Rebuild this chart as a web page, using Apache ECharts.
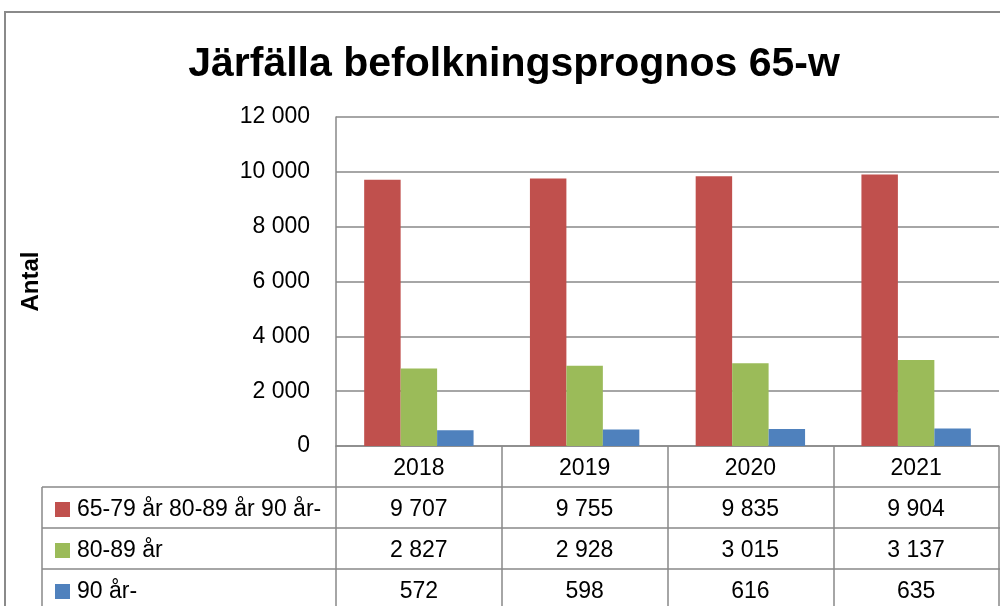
<!DOCTYPE html>
<html>
<head>
<meta charset="utf-8">
<script src="https://cdn.jsdelivr.net/npm/echarts@6/dist/echarts.min.js"></script>
<style>html,body{margin:0;padding:0;background:#fff}#c{width:1000px;height:606px}</style>
</head>
<body>
<div id="c"></div>
<script>
const categories = ['2018', '2019', '2020', '2021'];
const seriesNames = ['65-79 år 80-89 år 90 år-', '80-89 år', '90 år-'];
const s6579 = [9707, 9755, 9835, 9904];
const s8089 = [2827, 2928, 3015, 3137];
const s90 = [572, 598, 616, 635];
const colors = ['#C0504D', '#9BBB59', '#4F81BD'];
const FONT = 'Liberation Sans';
const GRAY = '#898989';

function fmt(v) { return String(v).replace(/\B(?=(\d{3})+(?!\d))/g, ' '); }

const chart = echarts.init(document.getElementById('c'), null, {renderer: 'canvas'});
const allSeries = [s6579, s8089, s90];

chart.setOption({
  animation: false,
  backgroundColor: '#fff',
  title: {
    text: 'Järfälla befolkningsprognos 65-w',
    left: 509, textAlign: 'center', top: 39,
    textStyle: {fontFamily: FONT, fontWeight: 'bold', fontSize: 41, color: '#000'}
  },
  legend: {
    orient: 'vertical', left: 50, top: 484, height: 160, itemGap: 0,
    itemWidth: 15, itemHeight: 15, icon: 'rect', selectedMode: false,
    textStyle: {fontFamily: FONT, fontSize: 23, color: '#000', lineHeight: 41, padding: [0, 0, 0, 2]},
    data: seriesNames
  },
  grid: {left: 336, right: 1, top: 117, bottom: 160, containLabel: false, outerBoundsMode: 'none'},
  xAxis: {
    type: 'category', data: categories,
    axisLine: {lineStyle: {color: GRAY, width: 1.5}},
    axisTick: {show: true, alignWithLabel: false, interval: 0, length: 162, lineStyle: {color: GRAY, width: 1.5}},
    axisLabel: {
      interval: 0, margin: 2, hideOverlap: false,
      fontFamily: FONT, fontSize: 23, color: '#000', lineHeight: 41,
      formatter: function (val, idx) {
        return [val].concat(allSeries.map(s => fmt(s[idx]))).join('\n');
      }
    }
  },
  yAxis: {
    type: 'value', min: 0, max: 12000, interval: 2000,
    name: 'Antal', nameLocation: 'middle', nameGap: 293, nameRotate: 90,
    nameTextStyle: {fontFamily: FONT, fontWeight: 'bold', fontSize: 24, color: '#000'},
    axisLine: {show: true, lineStyle: {color: GRAY, width: 1.5}},
    axisTick: {show: false},
    splitLine: {lineStyle: {color: GRAY, width: 1.5}},
    axisLabel: {fontFamily: FONT, fontSize: 23, color: '#000', margin: 26, formatter: v => fmt(v)}
  },
  graphic: [
    {type: 'rect', shape: {x: 5, y: 12, width: 1200, height: 800}, style: {fill: 'none', stroke: '#8a8a8a', lineWidth: 2}, silent: true, z: -1},
    {type: 'line', shape: {x1: 42, y1: 487, x2: 1000, y2: 487}, style: {stroke: GRAY, lineWidth: 1.5}, silent: true},
    {type: 'line', shape: {x1: 42, y1: 528, x2: 1000, y2: 528}, style: {stroke: GRAY, lineWidth: 1.5}, silent: true},
    {type: 'line', shape: {x1: 42, y1: 569, x2: 1000, y2: 569}, style: {stroke: GRAY, lineWidth: 1.5}, silent: true},
    {type: 'line', shape: {x1: 42, y1: 487, x2: 42, y2: 620}, style: {stroke: GRAY, lineWidth: 1.5}, silent: true}
  ],
  series: seriesNames.map((n, i) => ({
    name: n, type: 'bar', data: allSeries[i],
    itemStyle: {color: colors[i]},
    barGap: '0%', barCategoryGap: '34%'
  }))
});
</script>
</body>
</html>
